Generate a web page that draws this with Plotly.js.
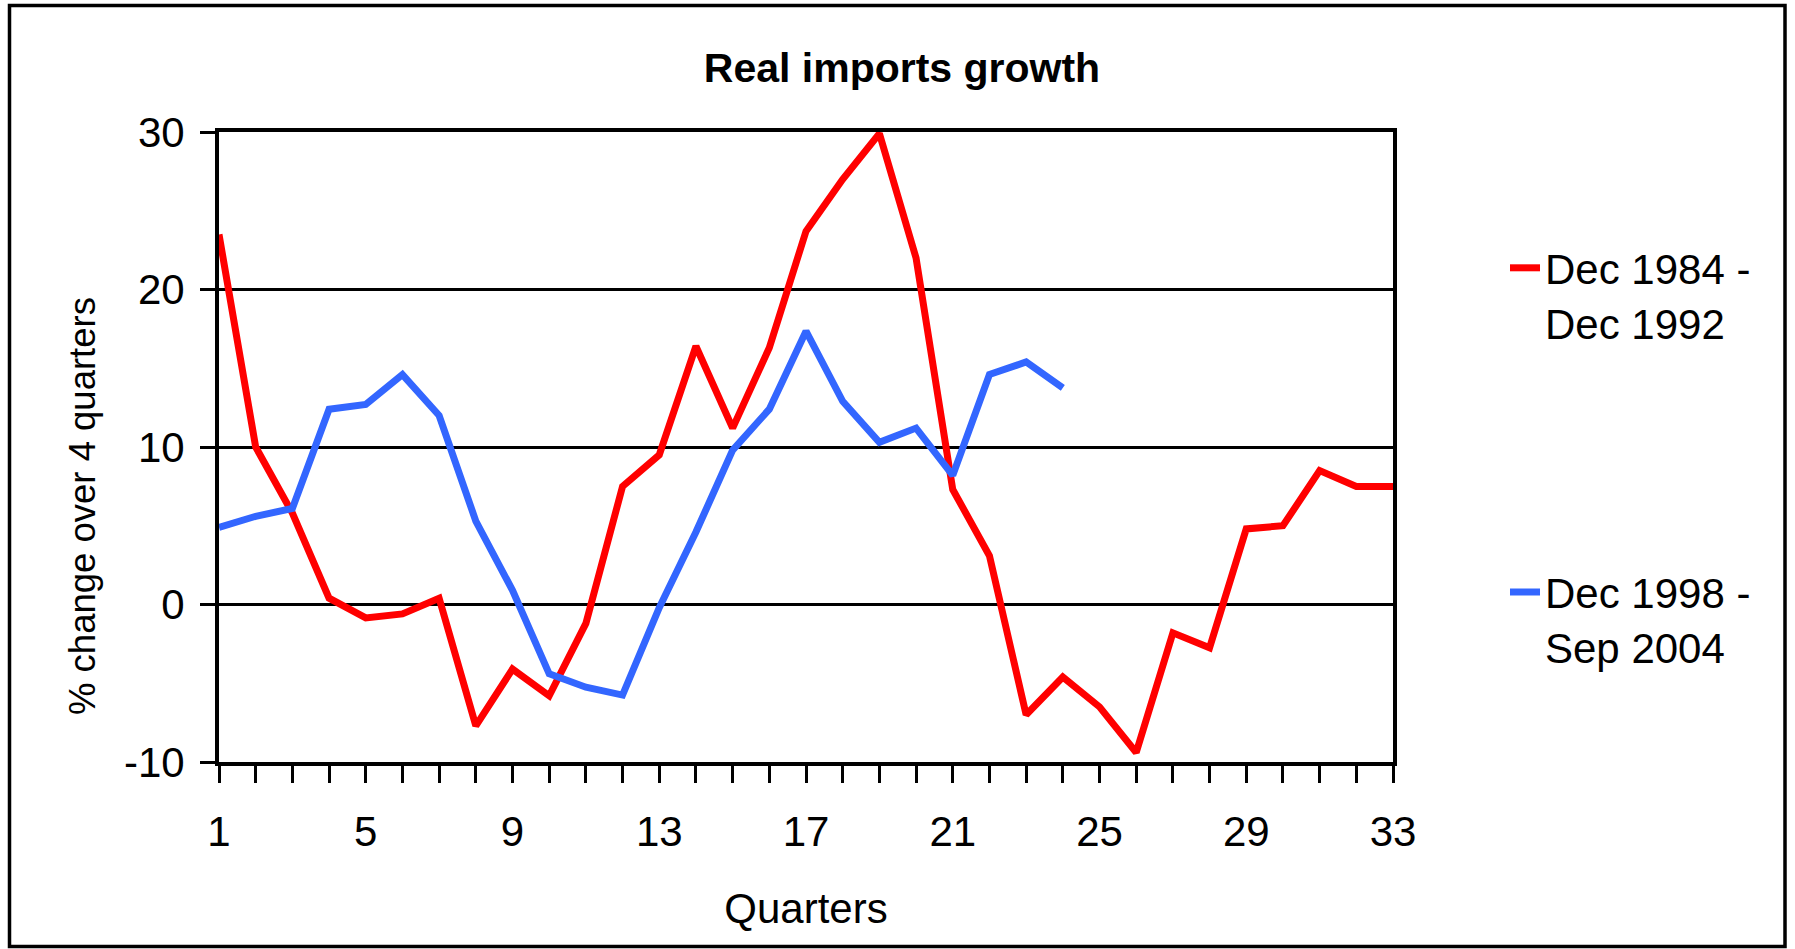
<!DOCTYPE html>
<html>
<head>
<meta charset="utf-8">
<script src="https://cdn.plot.ly/plotly-3.0.1.min.js"></script>
<style>html,body{margin:0;padding:0;background:#fff;}#chart{width:1795px;height:949px;}</style>
</head>
<body>
<div id="chart"></div>
<script>
// Quarter index (x categories)
const quarters = Array.from({length: 33}, (_, i) => i + 1);
// Series: % change over 4 quarters
const seriesNames = ["Dec 1984 -<br>Dec 1992", "Dec 1998 -<br>Sep 2004"];
const series1984 = [23.5, 10.0, 5.8, 0.4, -0.85, -0.6, 0.4, -7.7, -4.1, -5.8, -1.2, 7.5, 9.5, 16.4, 11.2, 16.3, 23.7, 27.0, 29.9, 22.0, 7.3, 3.1, -7.0, -4.6, -6.5, -9.4, -1.8, -2.75, 4.8, 5.0, 8.5, 7.5, 7.5];
const series1998 = [4.9, 5.6, 6.1, 12.4, 12.7, 14.6, 12.0, 5.3, 0.9, -4.4, -5.25, -5.75, -0.2, 4.6, 9.8, 12.4, 17.35, 12.9, 10.3, 11.2, 8.2, 14.6, 15.4, 13.75];
const xTickLabels = ["1", "5", "9", "13", "17", "21", "25", "29", "33"];
const yTickLabels = ["-10", "0", "10", "20", "30"];

const FONT = "Liberation Sans, Arial, sans-serif";

const traces = [
  {x: quarters.slice(0, series1984.length), y: series1984, name: seriesNames[0], type: "scatter", mode: "lines",
   line: {color: "#FF0000", width: 7}, legendgroup: "a"},
  {x: quarters.slice(0, series1998.length), y: series1998, name: seriesNames[1], type: "scatter", mode: "lines",
   line: {color: "#3366FF", width: 7}, legendgroup: "b"}
];

const layout = {
  width: 1795, height: 949,
  margin: {l: 219, r: 402, t: 132, b: 187},
  paper_bgcolor: "#fff", plot_bgcolor: "#fff",
  font: {family: FONT, color: "#000", size: 42},
  title: {text: "<b>Real imports growth</b>", font: {family: FONT, size: 41, color: "#000"},
          x: 0.5025, xanchor: "center", y: 1 - 68/949, yanchor: "middle", xref: "container", yref: "container"},
  xaxis: {
    range: [1, 33], tickvals: xTickLabels.map(Number), ticktext: xTickLabels,
    ticks: "outside", ticklen: 17, tickwidth: 3, tickcolor: "#000",
    minor: {tickvals: quarters, ticks: "outside", ticklen: 17, tickwidth: 3, tickcolor: "#000", showgrid: false},
    showline: true, linecolor: "#000", linewidth: 4, mirror: true,
    showgrid: false, zeroline: false,
    tickfont: {family: FONT, size: 42, color: "#000"},
    ticklabelstandoff: 13,
    title: {text: "Quarters", font: {family: FONT, size: 42, color: "#000"}, standoff: 40}
  },
  yaxis: {
    range: [-10, 30], tickvals: yTickLabels.map(Number), ticktext: yTickLabels,
    ticks: "outside", ticklen: 15, tickwidth: 3, tickcolor: "#000",
    showline: true, linecolor: "#000", linewidth: 4, mirror: true,
    showgrid: true, gridcolor: "#000", gridwidth: 3, zeroline: false,
    tickfont: {family: FONT, size: 42, color: "#000"},
    ticklabelstandoff: 7
  },
  showlegend: true,
  legend: {x: (1505 - 219) / 1174, xanchor: "left", y: (762 - 234) / 630, yanchor: "top",
           font: {family: FONT, size: 42, color: "#000"}, valign: "top",
           tracegroupgap: 212, bgcolor: "rgba(0,0,0,0)", borderwidth: 0},
  annotations: [
    {text: "% change over 4 quarters", textangle: -90, xref: "paper", yref: "paper",
     x: (82 - 219) / 1174, y: (762 - 506) / 630, xanchor: "center", yanchor: "middle",
     showarrow: false, font: {family: FONT, size: 36.5, color: "#000"}}
  ],
  shapes: [
    {type: "rect", xref: "paper", yref: "paper",
     x0: (9.5 - 219) / 1174, x1: (1785 - 219) / 1174, y0: (762 - 946.5) / 630, y1: (762 - 5.5) / 630,
     line: {color: "#000", width: 3.5}, fillcolor: "rgba(0,0,0,0)", layer: "below"}
  ]
};

Plotly.newPlot("chart", traces, layout, {displayModeBar: false, staticPlot: true});
</script>
</body>
</html>
